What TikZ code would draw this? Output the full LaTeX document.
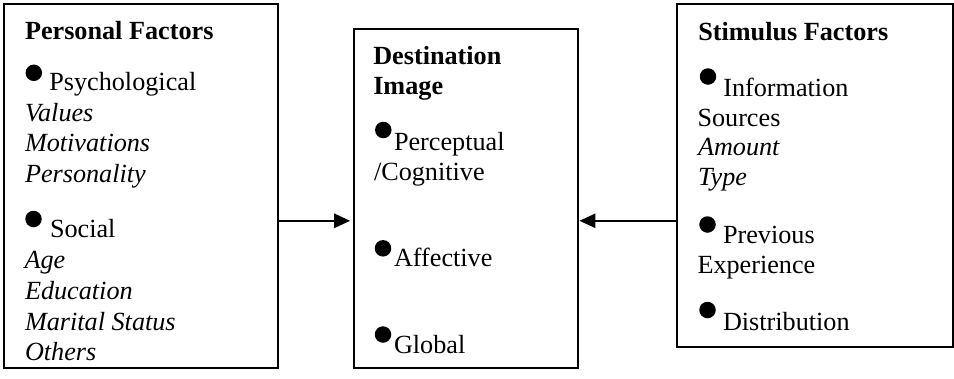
\documentclass[tikz,border=0pt]{standalone}
\usepackage{fontspec}
\setmainfont{Liberation Serif}
\usetikzlibrary{arrows.meta}
\begin{document}
\begin{tikzpicture}[x=1pt,y=-1pt,
  box/.style={draw, line width=2.2pt, inner sep=0pt, outer sep=0pt},
  txt/.style={anchor=base west, inner sep=0pt, outer sep=0pt, font=\fontsize{26.2}{30}\selectfont},
  hd/.style={txt, font=\fontsize{26.2}{30}\selectfont\bfseries},
  it/.style={txt, font=\fontsize{26.2}{30}\selectfont\itshape},
  dot/.style={circle, fill, inner sep=0pt, outer sep=0pt, minimum size=16.5pt},
  arr/.style={line width=2.5pt, -{Triangle[length=16pt,width=14pt]}}]
\useasboundingbox (0,0) rectangle (954,378);
% boxes
\node[box, minimum width=273.5pt, minimum height=363.7pt] (pf) at (141.1,186.2) {};
\node[box, minimum width=224pt, minimum height=339.6pt] (di) at (465.7,198.5) {};
\node[box, minimum width=276pt, minimum height=342.4pt] (sf) at (814.7,175.5) {};
% arrows
\coordinate (ya) at (0,220.8);
\draw[arr, shorten >=3.5pt] (pf.east |- ya) -- (di.west |- ya);
\draw[arr, shorten >=1.7pt] (sf.west |- ya) -- (di.east |- ya);
% personal factors
\node[hd] (pfh) at (25,39) {Personal Factors};
\node[dot] (pfd1) at (33.8,72.8) {};
\node[txt] (pft1) at (49.3,90) {Psychological};
\node[it] (pfi1) at (25,121) {Values};
\node[it] (pfi2) at (25,151.5) {Motivations};
\node[it] (pfi3) at (25,182) {Personality};
\node[dot] (pfd2) at (33.5,219) {};
\node[txt] (pft2) at (50,237.3) {Social};
\node[it] (pfi4) at (24.5,268.3) {Age};
\node[it] (pfi5) at (25,299) {Education};
\node[it] (pfi6) at (25,330) {Marital Status};
\node[it] (pfi7) at (25,360.7) {Others};
% destination image
\node[hd] (dih1) at (373.3,64) {Destination};
\node[hd] (dih2) at (373.3,94) {Image};
\node[dot] (did1) at (383.3,130) {};
\node[txt] (dit1) at (394,150) {Perceptual};
\node[txt] (dit2) at (374,180) {/Cognitive};
\node[dot] (did2) at (383,248.3) {};
\node[txt] (dit3) at (394,266.7) {Affective};
\node[dot] (did3) at (383,334.5) {};
\node[txt] (dit4) at (394,353.3) {Global};
% stimulus factors
\node[hd] (sfh) at (698.3,40) {Stimulus Factors};
\node[dot] (sfd1) at (708,76.5) {};
\node[txt] (sft1) at (723.3,96) {Information};
\node[txt] (sft2) at (697.5,126) {Sources};
\node[it] (sfi1) at (698,155.5) {Amount};
\node[it] (sfi2) at (698,185) {Type};
\node[dot] (sfd2) at (707.5,224.5) {};
\node[txt] (sft3) at (723,243.3) {Previous};
\node[txt] (sft4) at (697.5,273.3) {Experience};
\node[dot] (sfd3) at (707.5,310) {};
\node[txt] (sft5) at (723,330) {Distribution};
\end{tikzpicture}
\end{document}
